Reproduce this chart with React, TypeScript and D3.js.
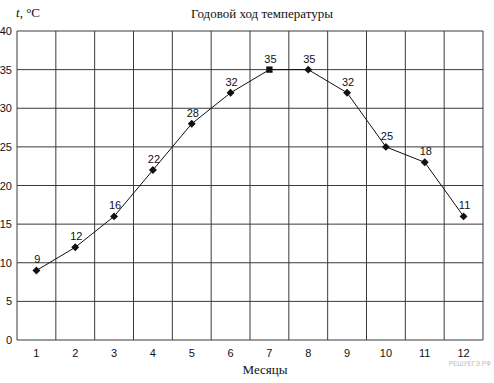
import React from "react";
import * as d3 from "d3";

const months = ["1", "2", "3", "4", "5", "6", "7", "8", "9", "10", "11", "12"];
const temps = [9, 12, 16, 22, 28, 32, 35, 35, 32, 25, 23, 16];
const pointLabels = ["9", "12", "16", "22", "28", "32", "35", "35", "32", "25", "18", "11"];
const markerShapes = ["d", "d", "d", "d", "d", "d", "s", "d", "d", "d", "d", "d"];
const yTicks = [0, 5, 10, 15, 20, 25, 30, 35, 40];

const W = 494, H = 383;
const left = 17, right = 483, top = 31, bottom = 340;

export default function App() {
  const x = d3.scaleBand<string>().domain(months).range([left, right]).padding(0);
  const y = d3.scaleLinear().domain([0, 40]).range([bottom, top]);
  const cx = (m: string) => (x(m) as number) + x.bandwidth() / 2;
  const line = d3.line<number>().x((_, i) => cx(months[i])).y((d) => y(d));
  const diamond = d3.symbol().type(d3.symbolDiamond2).size(40)();
  const square = d3.symbol().type(d3.symbolSquare).size(40)();
  const sans = "'Liberation Sans', Arial, sans-serif";
  const serif = "'Liberation Serif', 'Times New Roman', serif";
  const gridColor = "#3a3a3a";
  return (
    <svg width={W} height={H} style={{ position: "absolute", left: 0, top: 0, background: "#fff" }}>
      {yTicks.map((t) => (
        <line key={"h" + t} x1={left} x2={right} y1={y(t)} y2={y(t)} stroke={gridColor} strokeWidth={1} />
      ))}
      {months.map((m) => (
        <line key={"v" + m} x1={x(m) as number} x2={x(m) as number} y1={top} y2={bottom} stroke={gridColor} strokeWidth={1} />
      ))}
      <line x1={right} x2={right} y1={top} y2={bottom} stroke={gridColor} strokeWidth={1} />
      {yTicks.map((t) => (
        <text key={"yl" + t} x={12} y={y(t) + 4} textAnchor="end" fontFamily={sans} fontSize={11} fill="#111">
          {t}
        </text>
      ))}
      {months.map((m) => (
        <text key={"xl" + m} x={cx(m)} y={357} textAnchor="middle" fontFamily={sans} fontSize={11} fill="#111">
          {m}
        </text>
      ))}
      <path d={line(temps) as string} fill="none" stroke="#111" strokeWidth={1} />
      {temps.map((v, i) => (
        <path
          key={"p" + i}
          d={markerShapes[i] === "s" ? square : diamond}
          transform={`translate(${cx(months[i])},${y(v)})`}
          fill="#111"
        />
      ))}
      {temps.map((v, i) => (
        <text key={"pl" + i} x={cx(months[i]) + 1} y={y(v) - 7} textAnchor="middle" fontFamily={sans} fontSize={11} fill="#111">
          {pointLabels[i]}
        </text>
      ))}
      <text x={16} y={17} fontFamily={serif} fontSize={13} fill="#111">
        <tspan fontStyle="italic">t</tspan>, °C
      </text>
      <text x={262} y={18} textAnchor="middle" fontFamily={serif} fontSize={13} fill="#111">
        Годовой ход температуры
      </text>
      <text x={265} y={374} textAnchor="middle" fontFamily={serif} fontSize={13} fill="#111">
        Месяцы
      </text>
      <text x={491} y={366} textAnchor="end" fontFamily={sans} fontSize={6.5} fill="#bbb">
        РЕШУЕГЭ.РФ
      </text>
    </svg>
  );
}
